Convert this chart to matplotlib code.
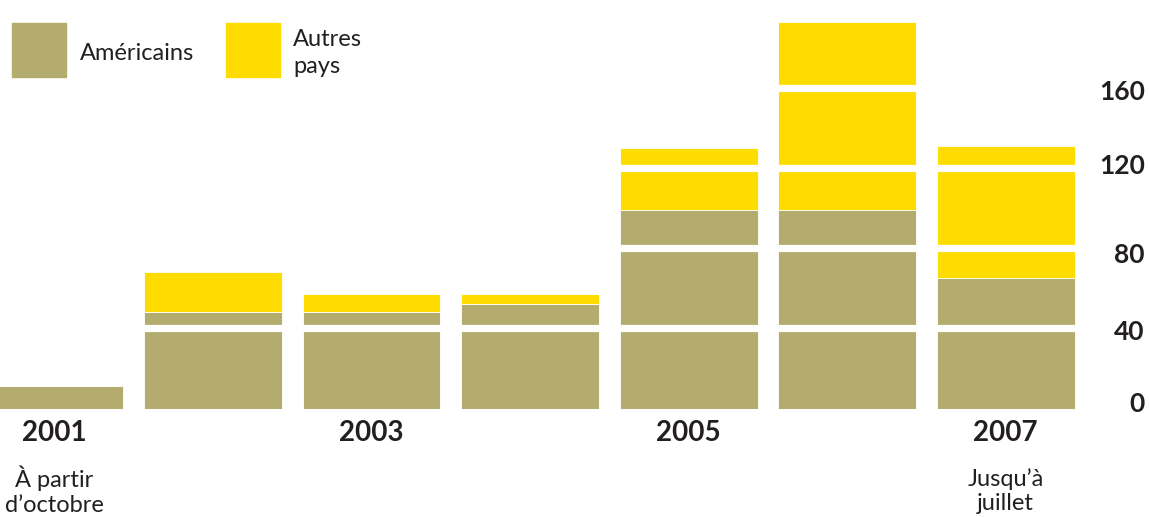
import matplotlib.pyplot as plt
from matplotlib.patches import Rectangle
from matplotlib.transforms import blended_transform_factory, ScaledTranslation

# données
annees = [2001, 2002, 2003, 2004, 2005, 2006, 2007]
americains = [11, 48, 48, 52, 99, 99, 65]
autres = [0, 20, 9, 5, 31, 94, 66]
yticks = [0, 40, 80, 120, 160]
labels_annees = {2001: "2001", 2003: "2003", 2005: "2005", 2007: "2007"}
notes = {2001: "À partir\nd\u2019octobre", 2007: "Jusqu\u2019à\njuillet"}

OLIVE = "#B3AC6E"
JAUNE = "#FFDC00"
TEXTE = "#231F20"
plt.rcParams['font.family'] = ['Lato', 'DejaVu Sans']


def main():
    fig = plt.figure(figsize=(11.5, 5.17), dpi=100)
    W, H = 1150, 517
    y0, y1 = 408.5, 7.9
    ax = fig.add_axes([0, (H - y0) / H, 1085 / W, (y0 - y1) / H])

    ax.bar(annees, americains, width=0.87, color=OLIVE,
           edgecolor="white", linewidth=0.6, zorder=2)
    ax.bar(annees, autres, width=0.87, bottom=americains, color=JAUNE,
           edgecolor="white", linewidth=0.6, zorder=2)

    # lignes blanches qui coupent les barres
    for v in yticks[1:]:
        ax.axhline(v, color="white", lw=5.2, zorder=3)

    ax.set_xlim(2000.657, 2007.5)
    ax.set_ylim(0, 200)
    for s in ax.spines.values():
        s.set_visible(False)
    ax.set_xticks([])
    ax.yaxis.tick_right()
    ax.set_yticks(yticks)
    ax.set_yticklabels([str(v) for v in yticks], fontsize=19,
                       fontweight="bold", color=TEXTE, ha="right")
    ax.tick_params(axis="y", length=0, pad=43)
    # petits décalages des étiquettes (en pixels, vers le haut positif)
    decal = [6.5, -2, -5, 4, -2]
    for lab, d in zip(ax.get_yticklabels(), decal):
        lab.set_transform(lab.get_transform() +
                          ScaledTranslation(0, d / 100, fig.dpi_scale_trans))

    tr = blended_transform_factory(ax.transData, fig.transFigure)
    for a, lab in labels_annees.items():
        ax.text(a, 1 - 433 / H, lab, transform=tr, ha="center", va="center",
                fontsize=20, fontweight="bold", color=TEXTE)
    for a, lab in notes.items():
        ax.text(a, 1 - 491 / H, lab, transform=tr, ha="center", va="center",
                fontsize=17, color=TEXTE, linespacing=1.22)

    # légende
    for x, c in [(12, OLIVE), (226, JAUNE)]:
        fig.add_artist(Rectangle((x / W, 1 - 77 / H), 54 / W, 54 / H,
                                 transform=fig.transFigure, color=c))
    fig.text(80 / W, 1 - 53 / H, "Américains", ha="left", va="center",
             fontsize=17, color=TEXTE)
    fig.text(293 / W, 1 - 53 / H, "Autres\npays", ha="left", va="center",
             fontsize=17, color=TEXTE, linespacing=1.35)

    fig.savefig("out.png", dpi=100)


if __name__ == "__main__":
    main()
